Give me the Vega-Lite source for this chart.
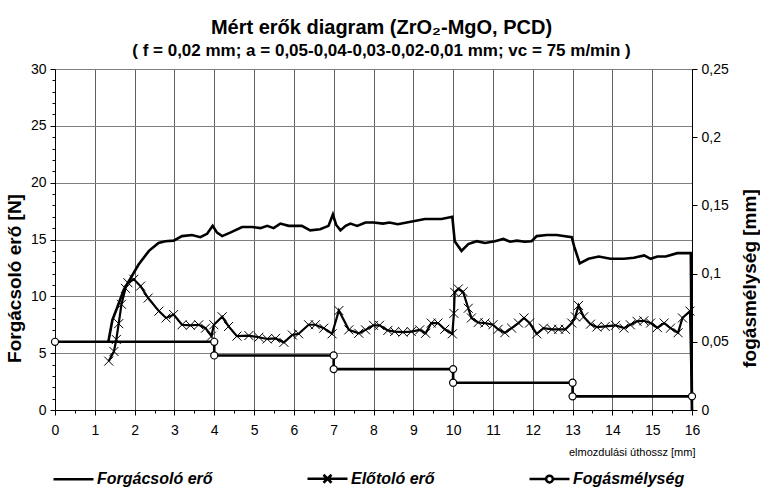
{
  "$schema": "https://vega.github.io/schema/vega-lite/v6.json",
  "width": 637,
  "height": 341,
  "autosize": {"type": "none"},
  "padding": {"left": 55, "top": 69, "right": 68, "bottom": 81},
  "background": "white",
  "title": {
    "text": "Mért erők diagram (ZrO₂-MgO, PCD)",
    "subtitle": "( f = 0,02 mm; a = 0,05-0,04-0,03-0,02-0,01 mm; vc = 75 m/min )",
    "font": "Liberation Sans",
    "fontSize": 20,
    "fontWeight": "bold",
    "color": "black",
    "subtitleFont": "Liberation Sans",
    "subtitleFontSize": 17,
    "subtitleFontWeight": "bold",
    "subtitleColor": "black",
    "subtitlePadding": 5,
    "anchor": "middle",
    "offset": 3,
    "dx": 8
  },
  "config": {
    "view": {"stroke": null},
    "axis": {
      "labelFont": "Liberation Sans",
      "labelFontSize": 14,
      "labelColor": "black",
      "titleColor": "black",
      "titleFont": "Liberation Sans",
      "domainColor": "black",
      "domainWidth": 1,
      "tickColor": "black",
      "gridColor": "#808080",
      "gridWidth": 1
    }
  },
  "data": {
    "values": [
      {"s": "Forgácsoló erő", "i": 0, "x": 1.34, "v": 6.0},
      {"s": "Forgácsoló erő", "i": 1, "x": 1.44, "v": 7.9},
      {"s": "Forgácsoló erő", "i": 2, "x": 1.56, "v": 9.0},
      {"s": "Forgácsoló erő", "i": 3, "x": 1.73, "v": 10.6},
      {"s": "Forgácsoló erő", "i": 4, "x": 1.9, "v": 11.6},
      {"s": "Forgácsoló erő", "i": 5, "x": 2.1, "v": 12.8},
      {"s": "Forgácsoló erő", "i": 6, "x": 2.36, "v": 14.0},
      {"s": "Forgácsoló erő", "i": 7, "x": 2.6, "v": 14.7},
      {"s": "Forgácsoló erő", "i": 8, "x": 2.77, "v": 14.85},
      {"s": "Forgácsoló erő", "i": 9, "x": 2.98, "v": 14.9},
      {"s": "Forgácsoló erő", "i": 10, "x": 3.19, "v": 15.3},
      {"s": "Forgácsoló erő", "i": 11, "x": 3.44, "v": 15.4},
      {"s": "Forgácsoló erő", "i": 12, "x": 3.65, "v": 15.2},
      {"s": "Forgácsoló erő", "i": 13, "x": 3.82, "v": 15.5},
      {"s": "Forgácsoló erő", "i": 14, "x": 3.96, "v": 16.2},
      {"s": "Forgácsoló erő", "i": 15, "x": 4.07, "v": 15.6},
      {"s": "Forgácsoló erő", "i": 16, "x": 4.2, "v": 15.3},
      {"s": "Forgácsoló erő", "i": 17, "x": 4.4, "v": 15.6},
      {"s": "Forgácsoló erő", "i": 18, "x": 4.7, "v": 16.1},
      {"s": "Forgácsoló erő", "i": 19, "x": 4.95, "v": 16.1},
      {"s": "Forgácsoló erő", "i": 20, "x": 5.16, "v": 16.0},
      {"s": "Forgácsoló erő", "i": 21, "x": 5.33, "v": 16.2},
      {"s": "Forgácsoló erő", "i": 22, "x": 5.49, "v": 16.0},
      {"s": "Forgácsoló erő", "i": 23, "x": 5.66, "v": 16.4},
      {"s": "Forgácsoló erő", "i": 24, "x": 5.87, "v": 16.2},
      {"s": "Forgácsoló erő", "i": 25, "x": 6.2, "v": 16.2},
      {"s": "Forgácsoló erő", "i": 26, "x": 6.41, "v": 15.8},
      {"s": "Forgácsoló erő", "i": 27, "x": 6.66, "v": 15.9},
      {"s": "Forgácsoló erő", "i": 28, "x": 6.87, "v": 16.2},
      {"s": "Forgácsoló erő", "i": 29, "x": 6.98, "v": 17.2},
      {"s": "Forgácsoló erő", "i": 30, "x": 7.06, "v": 16.3},
      {"s": "Forgácsoló erő", "i": 31, "x": 7.17, "v": 15.8},
      {"s": "Forgácsoló erő", "i": 32, "x": 7.3, "v": 16.2},
      {"s": "Forgácsoló erő", "i": 33, "x": 7.42, "v": 16.4},
      {"s": "Forgácsoló erő", "i": 34, "x": 7.59, "v": 16.2},
      {"s": "Forgácsoló erő", "i": 35, "x": 7.8, "v": 16.5},
      {"s": "Forgácsoló erő", "i": 36, "x": 8.0, "v": 16.5},
      {"s": "Forgácsoló erő", "i": 37, "x": 8.24, "v": 16.4},
      {"s": "Forgácsoló erő", "i": 38, "x": 8.4, "v": 16.5},
      {"s": "Forgácsoló erő", "i": 39, "x": 8.61, "v": 16.35},
      {"s": "Forgácsoló erő", "i": 40, "x": 9.0, "v": 16.6},
      {"s": "Forgácsoló erő", "i": 41, "x": 9.29, "v": 16.8},
      {"s": "Forgácsoló erő", "i": 42, "x": 9.71, "v": 16.8},
      {"s": "Forgácsoló erő", "i": 43, "x": 9.98, "v": 17.0},
      {"s": "Forgácsoló erő", "i": 44, "x": 10.04, "v": 14.85},
      {"s": "Forgácsoló erő", "i": 45, "x": 10.21, "v": 14.0},
      {"s": "Forgácsoló erő", "i": 46, "x": 10.38, "v": 14.6},
      {"s": "Forgácsoló erő", "i": 47, "x": 10.59, "v": 14.85},
      {"s": "Forgácsoló erő", "i": 48, "x": 10.8, "v": 14.7},
      {"s": "Forgácsoló erő", "i": 49, "x": 11.05, "v": 14.85},
      {"s": "Forgácsoló erő", "i": 50, "x": 11.26, "v": 15.05},
      {"s": "Forgácsoló erő", "i": 51, "x": 11.43, "v": 14.8},
      {"s": "Forgácsoló erő", "i": 52, "x": 11.6, "v": 14.9},
      {"s": "Forgácsoló erő", "i": 53, "x": 11.8, "v": 14.8},
      {"s": "Forgácsoló erő", "i": 54, "x": 11.97, "v": 14.85},
      {"s": "Forgácsoló erő", "i": 55, "x": 12.1, "v": 15.3},
      {"s": "Forgácsoló erő", "i": 56, "x": 12.35, "v": 15.4},
      {"s": "Forgácsoló erő", "i": 57, "x": 12.6, "v": 15.4},
      {"s": "Forgácsoló erő", "i": 58, "x": 12.98, "v": 15.2},
      {"s": "Forgácsoló erő", "i": 59, "x": 13.04, "v": 14.4},
      {"s": "Forgácsoló erő", "i": 60, "x": 13.18, "v": 12.9},
      {"s": "Forgácsoló erő", "i": 61, "x": 13.4, "v": 13.3},
      {"s": "Forgácsoló erő", "i": 62, "x": 13.66, "v": 13.5},
      {"s": "Forgácsoló erő", "i": 63, "x": 13.95, "v": 13.3},
      {"s": "Forgácsoló erő", "i": 64, "x": 14.29, "v": 13.3},
      {"s": "Forgácsoló erő", "i": 65, "x": 14.54, "v": 13.4},
      {"s": "Forgácsoló erő", "i": 66, "x": 14.8, "v": 13.6},
      {"s": "Forgácsoló erő", "i": 67, "x": 14.96, "v": 13.3},
      {"s": "Forgácsoló erő", "i": 68, "x": 15.13, "v": 13.5},
      {"s": "Forgácsoló erő", "i": 69, "x": 15.34, "v": 13.5},
      {"s": "Forgácsoló erő", "i": 70, "x": 15.63, "v": 13.8},
      {"s": "Forgácsoló erő", "i": 71, "x": 15.97, "v": 13.8},
      {"s": "Forgácsoló erő", "i": 72, "x": 16.0, "v": 0},
      {"s": "Előtoló erő", "i": 0, "x": 1.35, "v": 4.3},
      {"s": "Előtoló erő", "i": 1, "x": 1.48, "v": 5.15},
      {"s": "Előtoló erő", "i": 2, "x": 1.54, "v": 6.2},
      {"s": "Előtoló erő", "i": 3, "x": 1.6, "v": 7.6},
      {"s": "Előtoló erő", "i": 4, "x": 1.67, "v": 9.3},
      {"s": "Előtoló erő", "i": 5, "x": 1.77, "v": 10.7},
      {"s": "Előtoló erő", "i": 6, "x": 1.83, "v": 11.2},
      {"s": "Előtoló erő", "i": 7, "x": 1.98, "v": 11.5},
      {"s": "Előtoló erő", "i": 8, "x": 2.15, "v": 10.9},
      {"s": "Előtoló erő", "i": 9, "x": 2.34, "v": 9.85},
      {"s": "Előtoló erő", "i": 10, "x": 2.61, "v": 8.7},
      {"s": "Előtoló erő", "i": 11, "x": 2.79, "v": 8.1},
      {"s": "Előtoló erő", "i": 12, "x": 2.98, "v": 8.4},
      {"s": "Előtoló erő", "i": 13, "x": 3.19, "v": 7.5},
      {"s": "Előtoló erő", "i": 14, "x": 3.4, "v": 7.45},
      {"s": "Előtoló erő", "i": 15, "x": 3.61, "v": 7.5},
      {"s": "Előtoló erő", "i": 16, "x": 3.78, "v": 7.2},
      {"s": "Előtoló erő", "i": 17, "x": 3.93, "v": 6.5},
      {"s": "Előtoló erő", "i": 18, "x": 3.99, "v": 7.5},
      {"s": "Előtoló erő", "i": 19, "x": 4.2, "v": 8.2},
      {"s": "Előtoló erő", "i": 20, "x": 4.36, "v": 7.35},
      {"s": "Előtoló erő", "i": 21, "x": 4.57, "v": 6.5},
      {"s": "Előtoló erő", "i": 22, "x": 4.87, "v": 6.55},
      {"s": "Előtoló erő", "i": 23, "x": 5.12, "v": 6.4},
      {"s": "Előtoló erő", "i": 24, "x": 5.33, "v": 6.25},
      {"s": "Előtoló erő", "i": 25, "x": 5.54, "v": 6.3},
      {"s": "Előtoló erő", "i": 26, "x": 5.75, "v": 5.95},
      {"s": "Előtoló erő", "i": 27, "x": 5.96, "v": 6.6},
      {"s": "Előtoló erő", "i": 28, "x": 6.12, "v": 6.7},
      {"s": "Előtoló erő", "i": 29, "x": 6.37, "v": 7.5},
      {"s": "Előtoló erő", "i": 30, "x": 6.54, "v": 7.5},
      {"s": "Előtoló erő", "i": 31, "x": 6.75, "v": 7.2},
      {"s": "Előtoló erő", "i": 32, "x": 6.96, "v": 6.7},
      {"s": "Előtoló erő", "i": 33, "x": 7.13, "v": 8.75},
      {"s": "Előtoló erő", "i": 34, "x": 7.38, "v": 7.05},
      {"s": "Előtoló erő", "i": 35, "x": 7.63, "v": 6.75},
      {"s": "Előtoló erő", "i": 36, "x": 7.8, "v": 7.05},
      {"s": "Előtoló erő", "i": 37, "x": 8.0, "v": 7.45},
      {"s": "Előtoló erő", "i": 38, "x": 8.15, "v": 7.45},
      {"s": "Előtoló erő", "i": 39, "x": 8.36, "v": 7.0},
      {"s": "Előtoló erő", "i": 40, "x": 8.53, "v": 6.9},
      {"s": "Előtoló erő", "i": 41, "x": 8.74, "v": 6.85},
      {"s": "Előtoló erő", "i": 42, "x": 8.95, "v": 6.9},
      {"s": "Előtoló erő", "i": 43, "x": 9.16, "v": 7.05},
      {"s": "Előtoló erő", "i": 44, "x": 9.31, "v": 6.75},
      {"s": "Előtoló erő", "i": 45, "x": 9.45, "v": 7.65},
      {"s": "Előtoló erő", "i": 46, "x": 9.62, "v": 7.65},
      {"s": "Előtoló erő", "i": 47, "x": 9.79, "v": 7.1},
      {"s": "Előtoló erő", "i": 48, "x": 9.98, "v": 6.7},
      {"s": "Előtoló erő", "i": 49, "x": 10.02, "v": 8.5},
      {"s": "Előtoló erő", "i": 50, "x": 10.04, "v": 10.35},
      {"s": "Előtoló erő", "i": 51, "x": 10.13, "v": 10.65},
      {"s": "Előtoló erő", "i": 52, "x": 10.25, "v": 10.4},
      {"s": "Előtoló erő", "i": 53, "x": 10.38, "v": 8.95},
      {"s": "Előtoló erő", "i": 54, "x": 10.46, "v": 8.1},
      {"s": "Előtoló erő", "i": 55, "x": 10.63, "v": 7.7},
      {"s": "Előtoló erő", "i": 56, "x": 10.8, "v": 7.65},
      {"s": "Előtoló erő", "i": 57, "x": 11.0, "v": 7.5},
      {"s": "Előtoló erő", "i": 58, "x": 11.13, "v": 7.1},
      {"s": "Előtoló erő", "i": 59, "x": 11.3, "v": 6.8},
      {"s": "Előtoló erő", "i": 60, "x": 11.47, "v": 7.2},
      {"s": "Előtoló erő", "i": 61, "x": 11.64, "v": 7.65},
      {"s": "Előtoló erő", "i": 62, "x": 11.78, "v": 8.1},
      {"s": "Előtoló erő", "i": 63, "x": 11.92, "v": 7.65},
      {"s": "Előtoló erő", "i": 64, "x": 12.1, "v": 6.7},
      {"s": "Előtoló erő", "i": 65, "x": 12.27, "v": 7.2},
      {"s": "Előtoló erő", "i": 66, "x": 12.48, "v": 7.1},
      {"s": "Előtoló erő", "i": 67, "x": 12.65, "v": 7.1},
      {"s": "Előtoló erő", "i": 68, "x": 12.82, "v": 7.1},
      {"s": "Előtoló erő", "i": 69, "x": 12.98, "v": 7.65},
      {"s": "Előtoló erő", "i": 70, "x": 13.07, "v": 8.2},
      {"s": "Előtoló erő", "i": 71, "x": 13.15, "v": 9.2},
      {"s": "Előtoló erő", "i": 72, "x": 13.28, "v": 8.2},
      {"s": "Előtoló erő", "i": 73, "x": 13.45, "v": 7.55},
      {"s": "Előtoló erő", "i": 74, "x": 13.61, "v": 7.3},
      {"s": "Előtoló erő", "i": 75, "x": 13.82, "v": 7.35},
      {"s": "Előtoló erő", "i": 76, "x": 14.08, "v": 7.45},
      {"s": "Előtoló erő", "i": 77, "x": 14.29, "v": 7.2},
      {"s": "Előtoló erő", "i": 78, "x": 14.45, "v": 7.5},
      {"s": "Előtoló erő", "i": 79, "x": 14.62, "v": 7.8},
      {"s": "Előtoló erő", "i": 80, "x": 14.79, "v": 7.85},
      {"s": "Előtoló erő", "i": 81, "x": 14.96, "v": 7.65},
      {"s": "Előtoló erő", "i": 82, "x": 15.13, "v": 7.25},
      {"s": "Előtoló erő", "i": 83, "x": 15.3, "v": 7.65},
      {"s": "Előtoló erő", "i": 84, "x": 15.46, "v": 7.2},
      {"s": "Előtoló erő", "i": 85, "x": 15.65, "v": 6.8},
      {"s": "Előtoló erő", "i": 86, "x": 15.76, "v": 8.1},
      {"s": "Előtoló erő", "i": 87, "x": 15.95, "v": 8.7},
      {"s": "Előtoló erő", "i": 88, "x": 16.0, "v": 0},
      {"s": "Fogásmélység", "i": 0, "x": 0, "v": 0.05},
      {"s": "Fogásmélység", "i": 1, "x": 4, "v": 0.05},
      {"s": "Fogásmélység", "i": 2, "x": 4, "v": 0.04},
      {"s": "Fogásmélység", "i": 3, "x": 7, "v": 0.04},
      {"s": "Fogásmélység", "i": 4, "x": 7, "v": 0.03},
      {"s": "Fogásmélység", "i": 5, "x": 10, "v": 0.03},
      {"s": "Fogásmélység", "i": 6, "x": 10, "v": 0.02},
      {"s": "Fogásmélység", "i": 7, "x": 13, "v": 0.02},
      {"s": "Fogásmélység", "i": 8, "x": 13, "v": 0.01},
      {"s": "Fogásmélység", "i": 9, "x": 16, "v": 0.01}
    ]
  },
  "encoding": {
    "x": {
      "field": "x",
      "type": "quantitative",
      "scale": {"domain": [0, 16], "nice": false, "zero": false},
      "axis": {
        "title": "elmozdulási úthossz [mm]",
        "values": [0, 0.5, 1, 1.5, 2, 2.5, 3, 3.5, 4, 4.5, 5, 5.5, 6, 6.5, 7, 7.5, 8, 8.5, 9, 9.5, 10, 10.5, 11, 11.5, 12, 12.5, 13, 13.5, 14, 14.5, 15, 15.5, 16],
        "format": "~g",
        "labelExpr": "datum.value % 1 === 0 ? datum.label : ''",
        "labelOverlap": false,
        "labelFlush": false,
        "grid": true,
        "gridColor": "#606060",
        "gridOpacity": {"condition": {"test": "datum.value % 1 === 0", "value": 1}, "value": 0},
        "tickSize": {"condition": {"test": "datum.value % 1 === 0", "value": 5}, "value": 3},
        "labelPadding": 8,
        "titleFont": "Liberation Sans Narrow, Arial Narrow, Liberation Sans",
        "titleFontSize": 11,
        "titleFontWeight": "normal",
        "titleAnchor": "end",
        "titleAlign": "right",
        "titleX": 640,
        "titleY": 42,
        "titleBaseline": "middle"
      }
    }
  },
  "layer": [
    {
      "encoding": {
        "y": {
          "field": "v",
          "type": "quantitative",
          "scale": {"domain": [0, 30], "nice": false},
          "axis": {
            "title": "Forgácsoló erő [N]",
            "values": [0, 1, 2, 3, 4, 5, 6, 7, 8, 9, 10, 11, 12, 13, 14, 15, 16, 17, 18, 19, 20, 21, 22, 23, 24, 25, 26, 27, 28, 29, 30],
            "labelExpr": "datum.value % 5 === 0 ? datum.label : ''",
            "labelOverlap": false,
            "labelFlush": false,
            "grid": true,
            "gridOpacity": {"condition": {"test": "datum.value % 5 === 0", "value": 1}, "value": 0},
            "tickSize": {"condition": {"test": "datum.value % 5 === 0", "value": 5}, "value": 3},
            "labelPadding": 4,
            "titleFontSize": 19,
            "titleFontWeight": "bold",
            "titleAngle": -90,
            "titleAlign": "center",
            "titleBaseline": "middle",
            "titleX": -41,
            "titleY": 209
          }
        }
      },
      "layer": [
        {
          "transform": [{"filter": {"field": "s", "equal": "Forgácsoló erő"}}],
          "mark": {"type": "line", "stroke": "black", "strokeWidth": 2.6},
          "encoding": {"order": {"field": "i", "type": "quantitative"}}
        },
        {
          "transform": [{"filter": {"field": "s", "equal": "Előtoló erő"}}],
          "mark": {"type": "line", "stroke": "black", "strokeWidth": 2.2},
          "encoding": {"order": {"field": "i", "type": "quantitative"}}
        },
        {
          "transform": [{"filter": "datum.s === 'Előtoló erő' && datum.x < 16"}],
          "mark": {"type": "point", "shape": "M-1,-1L1,1M-1,1L1,-1", "filled": false, "stroke": "black", "strokeWidth": 1, "size": 81, "opacity": 1}
        },
        {
          "transform": [{"filter": "datum.i < 0"}],
          "mark": {"type": "point", "filled": true, "fill": "white", "stroke": "black", "strokeWidth": 2.5, "opacity": 1},
          "encoding": {
            "shape": {
              "field": "s",
              "type": "nominal",
              "scale": {
                "domain": ["Forgácsoló erő", "Előtoló erő", "Fogásmélység"],
                "range": [
                  "M-1,0L1,0",
                  "M-1,0L1,0M-0.2,-0.2L0.2,0.2M-0.2,0.2L0.2,-0.2",
                  "M-1,0L-0.17,0M0.17,0L1,0M0.17,0A0.17,0.17 0 1,1 -0.17,0A0.17,0.17 0 1,1 0.17,0"
                ]
              },
              "legend": {
                "title": null,
                "orient": "none",
                "legendX": -3,
                "legendY": 388,
                "direction": "horizontal",
                "symbolSize": 1600,
                "symbolStrokeWidth": 2.5,
                "labelFont": "Liberation Sans",
                "labelFontSize": 16,
                "labelFontWeight": "bold",
                "labelFontStyle": "italic",
                "labelColor": "black",
                "labelOffset": 2,
                "labelLimit": 300,
                "columnPadding": 89
              }
            }
          }
        }
      ]
    },
    {
      "transform": [{"filter": {"field": "s", "equal": "Fogásmélység"}}],
      "encoding": {
        "y": {
          "field": "v",
          "type": "quantitative",
          "scale": {"domain": [0, 0.25], "nice": false},
          "axis": {
            "orient": "right",
            "title": "fogásmélység [mm]",
            "values": [0, 0.05, 0.1, 0.15, 0.2, 0.25],
            "format": ".2~f",
            "labelExpr": "replace(datum.label, '.', ',')",
            "grid": false,
            "tickSize": 5,
            "labelPadding": 4,
            "labelFlush": false,
            "titleFontSize": 19,
            "titleFontWeight": "bold",
            "titleAngle": -90,
            "titleAlign": "center",
            "titleBaseline": "middle",
            "titleX": 57,
            "titleY": 209
          }
        }
      },
      "layer": [
        {
          "mark": {"type": "line", "stroke": "black", "strokeWidth": 2.6},
          "encoding": {"order": {"field": "i", "type": "quantitative"}}
        },
        {
          "mark": {"type": "point", "shape": "circle", "filled": true, "fill": "white", "stroke": "black", "strokeWidth": 1.2, "size": 50, "opacity": 1}
        }
      ]
    }
  ],
  "resolve": {"scale": {"y": "independent"}, "axis": {"y": "independent"}}
}
